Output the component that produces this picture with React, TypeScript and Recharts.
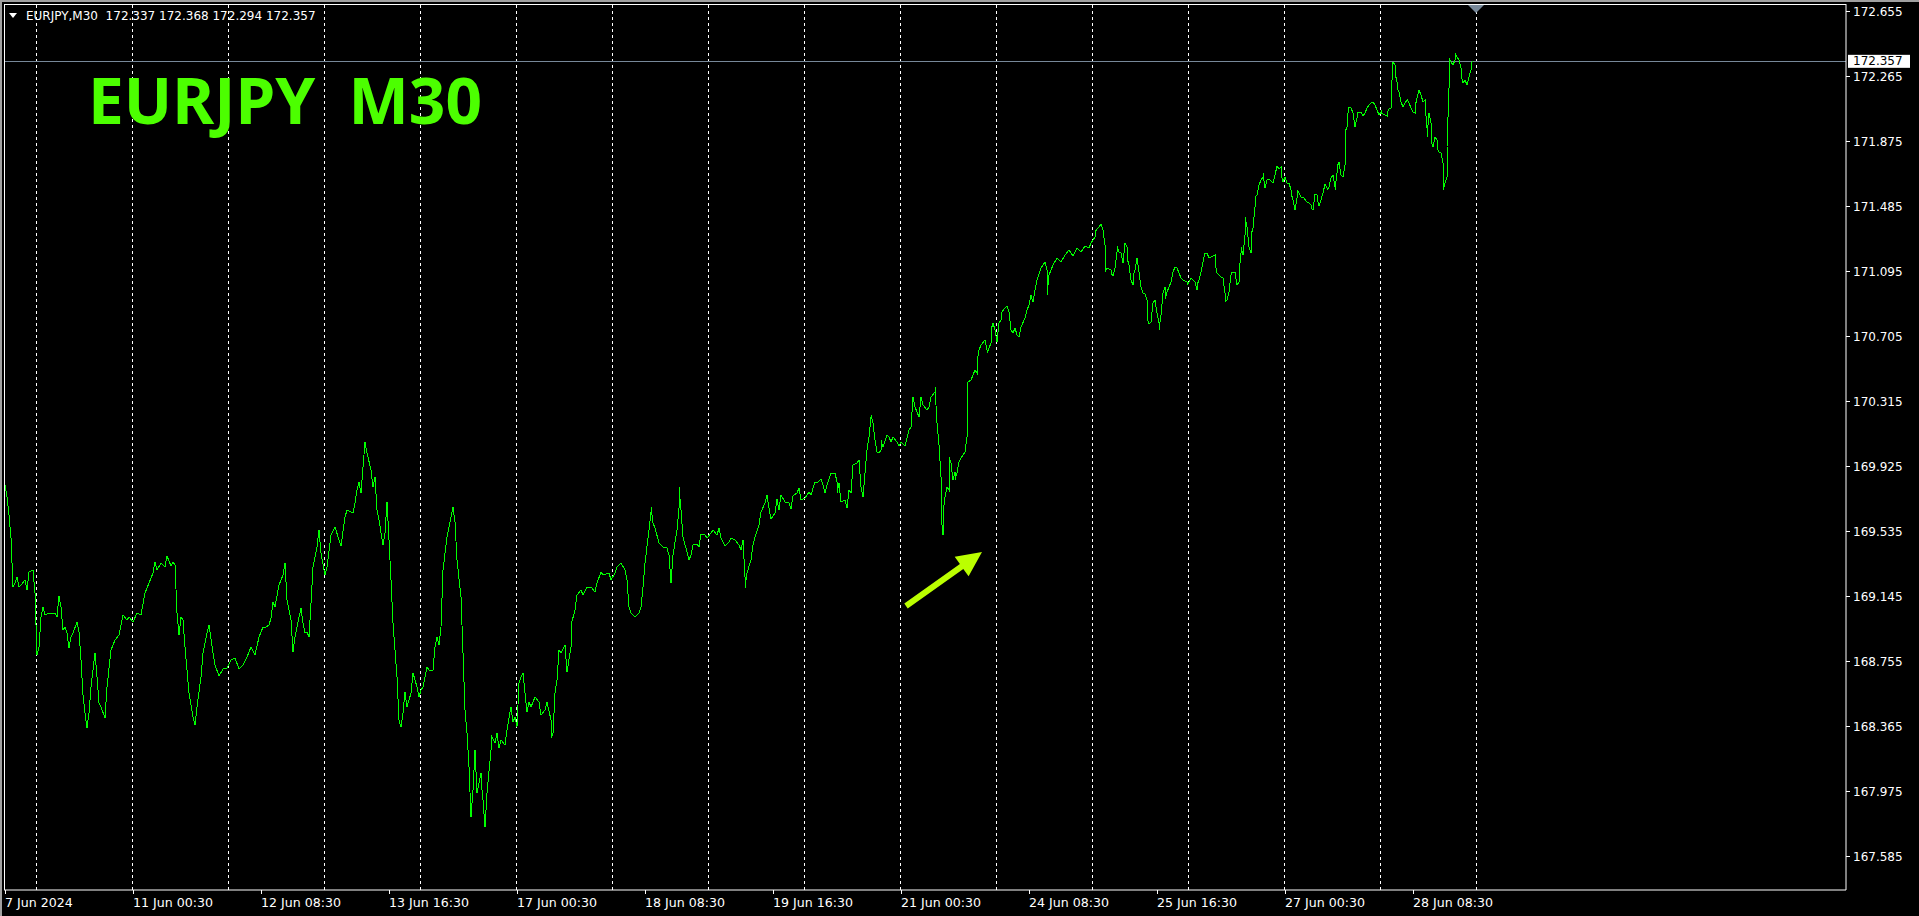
import React from "react";
import { LineChart, Line, XAxis, YAxis, ReferenceLine } from "recharts";

// EURJPY M30 closes: [bar index, close]
const closeByBar: [number, number][] = [
  [0,169.815],[1,169.743],[2,169.635],[3,169.497],[4,169.203],[5,169.227],[6,169.263],[7,169.203],[8,169.215],[10,169.245],
  [11,169.185],[12,169.293],[14,169.305],[15,169.167],[16,168.795],[17,168.843],[18,169.023],[19,169.083],[20,169.035],[22,169.047],
  [25,169.047],[26,169.023],[27,169.149],[28,169.083],[29,168.945],[30,168.963],[31,168.927],[32,168.837],[33,168.903],[34,168.927],
  [36,168.993],[37,168.933],[38,168.765],[39,168.555],[40,168.447],[41,168.357],[42,168.447],[43,168.603],[45,168.807],[46,168.663],
  [47,168.507],[48,168.483],[50,168.417],[51,168.603],[53,168.825],[55,168.885],[57,168.915],[59,169.035],[61,169.005],[62,169.023],
  [64,168.993],[66,169.047],[68,169.035],[70,169.167],[72,169.227],[74,169.287],[75,169.353],[76,169.305],[78,169.347],[80,169.323],
  [81,169.389],[83,169.329],[84,169.353],[85,169.335],[86,169.047],[87,168.915],[88,169.023],[89,169.005],[90,168.843],[91,168.705],
  [92,168.567],[94,168.423],[95,168.375],[96,168.483],[98,168.663],[99,168.807],[101,168.927],[102,168.975],[104,168.807],[105,168.735],
  [107,168.669],[109,168.711],[111,168.717],[113,168.765],[115,168.777],[117,168.711],[119,168.735],[121,168.783],[123,168.843],[125,168.795],
  [127,168.903],[129,168.963],[130,168.957],[132,168.975],[133,169.017],[134,169.113],[135,169.083],[137,169.215],[139,169.275],[140,169.347],
  [141,169.125],[143,169.005],[144,168.813],[145,168.903],[146,168.963],[148,169.077],[149,168.987],[150,168.927],[151,168.933],[152,168.903],
  [153,169.107],[154,169.323],[156,169.443],[157,169.545],[158,169.407],[160,169.275],[161,169.323],[163,169.515],[165,169.563],[167,169.485],
  [168,169.449],[170,169.623],[171,169.665],[174,169.647],[175,169.707],[176,169.785],[177,169.833],[178,169.767],[180,170.073],[181,170.007],
  [183,169.905],[184,169.803],[185,169.863],[186,169.665],[187,169.605],[189,169.455],[190,169.527],[191,169.713],[192,169.485],[193,169.245],
  [194,168.987],[196,168.663],[197,168.405],[198,168.363],[199,168.447],[200,168.573],[201,168.483],[203,168.567],[204,168.687],[206,168.603],
  [207,168.543],[208,168.585],[209,168.603],[211,168.723],[212,168.705],[214,168.705],[215,168.843],[216,168.903],[217,168.855],[218,168.963],
  [219,169.305],[221,169.503],[222,169.563],[224,169.683],[225,169.593],[226,169.365],[228,169.143],[229,168.807],[230,168.465],[231,168.327],
  [232,168.123],[233,167.823],[234,167.985],[235,168.225],[236,167.967],[237,168.027],[238,168.087],[238,168.045],[239,167.925],[240,167.763],
  [241,167.967],[243,168.225],[243,168.315],[245,168.267],[246,168.327],[247,168.237],[248,168.285],[250,168.255],[251,168.345],[252,168.417],
  [253,168.483],[254,168.393],[255,168.423],[256,168.363],[257,168.627],[258,168.663],[259,168.687],[260,168.567],[261,168.453],[262,168.513],
  [263,168.483],[265,168.543],[267,168.513],[268,168.435],[270,168.465],[271,168.513],[273,168.405],[273,168.297],[274,168.327],[275,168.567],
  [276,168.645],[277,168.825],[278,168.807],[280,168.855],[281,168.693],[283,168.843],[283,168.975],[285,169.065],[286,169.155],[288,169.185],
  [289,169.155],[291,169.203],[293,169.203],[295,169.173],[296,169.227],[298,169.293],[299,169.275],[302,169.287],[303,169.245],[305,169.287],
  [306,169.323],[308,169.347],[310,169.305],[311,169.245],[312,169.083],[313,169.047],[315,169.023],[317,169.047],[318,169.083],[319,169.203],
  [320,169.347],[322,169.545],[323,169.653],[323,169.683],[324,169.587],[325,169.557],[327,169.467],[328,169.455],[329,169.443],[331,169.437],
  [332,169.395],[333,169.227],[334,169.395],[336,169.545],[337,169.677],[337,169.803],[338,169.665],[339,169.503],[341,169.413],[342,169.365],
  [343,169.395],[344,169.455],[346,169.461],[347,169.443],[348,169.521],[350,169.515],[351,169.497],[353,169.527],[354,169.545],[356,169.515],
  [357,169.557],[358,169.497],[360,169.449],[362,169.473],[363,169.497],[365,169.485],[367,169.455],[368,169.425],[369,169.485],[370,169.263],
  [370,169.197],[371,169.287],[373,169.365],[374,169.455],[375,169.503],[377,169.575],[378,169.653],[380,169.707],[381,169.755],[382,169.677],
  [383,169.611],[385,169.647],[386,169.731],[387,169.665],[388,169.755],[390,169.713],[392,169.707],[393,169.671],[394,169.749],[396,169.767],
  [397,169.797],[398,169.725],[400,169.737],[402,169.773],[403,169.755],[405,169.833],[406,169.827],[408,169.851],[409,169.815],[410,169.767],
  [411,169.815],[413,169.887],[415,169.887],[416,169.833],[416,169.767],[417,169.827],[418,169.713],[420,169.725],[421,169.677],[422,169.785],
  [423,169.767],[424,169.935],[426,169.947],[427,169.965],[428,169.803],[429,169.743],[430,169.887],[431,170.025],[432,170.103],[433,170.223],
  [433,170.235],[434,170.187],[435,170.085],[436,170.013],[437,170.007],[438,170.025],[438,170.085],[439,170.043],[441,170.115],[442,170.103],
  [443,170.073],[444,170.103],[446,170.073],[447,170.049],[448,170.073],[450,170.049],[451,170.097],[452,170.145],[453,170.163],[454,170.343],
  [455,170.283],[457,170.223],[458,170.343],[459,170.295],[461,170.265],[462,170.283],[463,170.343],[465,170.373],[465,170.403],[466,170.187],
  [467,170.055],[468,169.863],[468,169.635],[469,169.515],[469,169.647],[470,169.743],[471,169.803],[472,169.785],[472,169.983],[473,169.947],
  [474,169.845],[475,169.893],[475,169.845],[476,169.887],[477,169.953],[478,169.977],[480,170.013],[481,170.103],[481,170.307],[481,170.427],
  [483,170.445],[484,170.475],[485,170.505],[486,170.487],[486,170.547],[487,170.625],[488,170.655],[490,170.685],[491,170.625],[491,170.607],
  [493,170.667],[493,170.745],[494,170.787],[495,170.745],[496,170.673],[497,170.787],[498,170.805],[498,170.847],[500,170.877],[501,170.889],
  [502,170.853],[503,170.745],[504,170.727],[505,170.757],[506,170.715],[507,170.703],[508,170.763],[510,170.817],[511,170.865],[512,170.895],
  [513,170.955],[514,170.913],[515,170.985],[516,171.045],[518,171.117],[520,171.153],[521,171.105],[521,170.955],[522,171.075],[524,171.135],
  [526,171.177],[528,171.153],[530,171.195],[532,171.225],[534,171.189],[536,171.237],[538,171.213],[540,171.249],[542,171.237],[543,171.267],
  [545,171.303],[545,171.333],[546,171.351],[547,171.363],[548,171.381],[549,171.345],[550,171.255],[550,171.093],[551,171.117],[553,171.105],
  [553,171.087],[554,171.069],[555,171.117],[556,171.213],[556,171.249],[557,171.213],[558,171.207],[559,171.147],[560,171.267],[561,171.243],
  [561,171.177],[562,171.135],[563,171.045],[564,171.015],[564,171.063],[565,171.105],[566,171.177],[567,171.093],[568,171.003],[569,170.967],
  [570,170.961],[571,170.925],[571,170.823],[572,170.781],[573,170.793],[574,170.907],[575,170.925],[576,170.847],[577,170.787],[577,170.745],
  [578,170.835],[579,170.967],[580,171.003],[580,170.931],[581,170.973],[582,171.003],[583,171.033],[584,171.093],[585,171.123],[586,171.117],
  [587,171.087],[588,171.057],[589,171.045],[591,171.033],[591,171.015],[592,171.033],[593,171.057],[595,171.033],[596,170.985],[596,171.015],
  [597,171.045],[598,171.093],[599,171.153],[600,171.207],[601,171.207],[602,171.177],[603,171.183],[605,171.195],[605,171.153],[606,171.087],
  [608,171.063],[609,171.057],[610,170.967],[610,170.913],[611,170.925],[612,170.973],[613,171.075],[613,171.087],[615,171.093],[616,171.015],
  [617,171.033],[617,171.087],[618,171.207],[618,171.243],[619,171.195],[620,171.315],[620,171.423],[621,171.363],[622,171.243],[623,171.207],
  [623,171.315],[624,171.357],[625,171.483],[625,171.543],[626,171.555],[627,171.615],[628,171.645],[629,171.663],[629,171.687],[630,171.597],
  [631,171.645],[632,171.651],[633,171.639],[634,171.627],[635,171.675],[636,171.729],[637,171.711],[638,171.723],[638,171.687],[639,171.633],
  [640,171.663],[641,171.627],[642,171.627],[643,171.585],[643,171.567],[644,171.525],[645,171.465],[646,171.537],[646,171.585],[647,171.567],
  [648,171.543],[649,171.543],[651,171.513],[652,171.507],[653,171.495],[653,171.477],[654,171.465],[655,171.561],[656,171.555],[656,171.537],
  [657,171.489],[658,171.525],[659,171.567],[660,171.621],[661,171.597],[661,171.585],[662,171.603],[663,171.657],[664,171.675],[665,171.603],
  [665,171.585],[666,171.687],[666,171.723],[667,171.753],[668,171.675],[669,171.663],[670,171.735],[670,171.933],[671,171.963],[671,172.005],
  [672,172.083],[673,172.077],[674,172.047],[675,171.963],[676,172.017],[676,172.053],[677,172.047],[678,172.053],[679,172.029],[680,172.047],
  [681,172.077],[682,172.095],[683,172.107],[684,172.113],[685,172.095],[686,172.065],[687,172.035],[688,172.053],[688,172.047],[690,172.035],
  [691,172.029],[691,172.047],[692,172.071],[693,172.077],[693,172.137],[694,172.353],[695,172.335],[695,172.287],[696,172.233],[696,172.197],
  [697,172.173],[698,172.113],[699,172.083],[700,172.107],[701,172.125],[701,172.131],[702,172.107],[703,172.077],[704,172.053],[705,172.047],
  [705,172.083],[706,172.137],[707,172.185],[708,172.155],[709,172.113],[710,172.125],[710,172.107],[711,171.957],[711,171.903],[712,172.047],
  [713,171.987],[713,171.885],[714,171.843],[715,171.903],[716,171.885],[716,171.837],[717,171.813],[718,171.807],[719,171.747],[719,171.585],
  [720,171.627],[721,171.663],[721,171.843],[722,172.197],[722,172.377],[723,172.353],[724,172.335],[725,172.365],[725,172.407],[726,172.383],
  [727,172.365],[728,172.317],[728,172.275],[729,172.227],[730,172.245],[731,172.215],[732,172.263],[733,172.305],[733,172.347],[734,172.357],
];

// last bar: open, high, low, close
const lastBarOHLC = [172.337, 172.368, 172.294, 172.357];

const priceTicks = [
  172.655, 172.265, 171.875, 171.485, 171.095, 170.705, 170.315,
  169.925, 169.535, 169.145, 168.755, 168.365, 167.975, 167.585,
];

const timeTicks = [0, 64, 128, 192, 256, 320, 384, 448, 512, 576, 640, 704];
const timeLabels = [
  "7 Jun 2024", "11 Jun 00:30", "12 Jun 08:30", "13 Jun 16:30", "17 Jun 00:30", "18 Jun 08:30",
  "19 Jun 16:30", "21 Jun 00:30", "24 Jun 08:30", "25 Jun 16:30", "27 Jun 00:30", "28 Jun 08:30",
];

// day separators (midnight between bars)
const daySeparators = [
  15.5, 63.5, 111.5, 159.5, 207.5, 255.5, 303.5, 351.5,
  399.5, 447.5, 495.5, 543.5, 591.5, 639.5, 687.5, 735.5,
];

const FONT = "'DejaVu Sans', Tahoma, sans-serif";
const PLOT_RIGHT = 1846;
const PLOT_BOTTOM = 890;

const chartData = closeByBar.map(([bar, close]) => ({ bar, close }));
const lastClose = lastBarOHLC[3];

const PriceTick = ({ y, payload }: any) => (
  <g>
    <line x1={PLOT_RIGHT} x2={PLOT_RIGHT + 4} y1={y} y2={y} stroke="#fff" shapeRendering="crispEdges" />
    <text x={PLOT_RIGHT + 7} y={y + 4} fill="#fff" fontSize={12} fontFamily={FONT}>
      {payload.value.toFixed(3)}
    </text>
  </g>
);

const TimeTick = ({ x, payload }: any) => {
  const idx = timeTicks.indexOf(payload.value);
  return (
    <g>
      <line x1={x} x2={x} y1={PLOT_BOTTOM} y2={PLOT_BOTTOM + 4} stroke="#fff" shapeRendering="crispEdges" />
      <text x={x} y={PLOT_BOTTOM + 17} fill="#fff" fontSize={12.6} fontFamily={FONT}>
        {timeLabels[idx]}
      </text>
    </g>
  );
};

const PriceLabel = ({ viewBox }: any) => {
  const y = viewBox.y;
  return (
    <g>
      <rect x={PLOT_RIGHT + 2} y={y - 6.5} width={62} height={13} fill="#fff" />
      <text x={PLOT_RIGHT + 7} y={y + 4} fill="#000" fontSize={12} fontFamily={FONT}>
        {lastClose.toFixed(3)}
      </text>
    </g>
  );
};

const App: React.FC = () => {
  return (
    <div style={{ position: "fixed", left: 0, top: 0, width: 1919, height: 916, background: "#000", overflow: "hidden" }}>
      <LineChart width={1919} height={916} data={chartData} margin={{ top: 4, right: 0, bottom: 0, left: 4 }}>
        <XAxis
          dataKey="bar"
          type="number"
          domain={[-0.5, 920.5]}
          allowDataOverflow
          ticks={timeTicks}
          interval={0}
          height={26}
          axisLine={{ stroke: "#fff" }}
          tickLine={false}
          tick={<TimeTick />}
        />
        <YAxis
          orientation="right"
          type="number"
          domain={[167.385, 172.701]}
          allowDataOverflow
          ticks={priceTicks}
          interval={0}
          width={73}
          axisLine={{ stroke: "#fff" }}
          tickLine={false}
          tick={<PriceTick />}
        />
        {daySeparators.map((d) => (
          <ReferenceLine key={d} x={d} stroke="#fff" strokeDasharray="3 3" shapeRendering="crispEdges" />
        ))}
        <ReferenceLine y={lastClose} stroke="#778899" shapeRendering="crispEdges" label={<PriceLabel />} />
        <Line
          type="linear"
          dataKey="close"
          stroke="#00ff00"
          strokeWidth={1}
          shapeRendering="crispEdges"
          dot={false}
          activeDot={false}
          isAnimationActive={false}
        />
      </LineChart>
      <svg width={1919} height={916} style={{ position: "absolute", left: 0, top: 0, pointerEvents: "none" }}>
        {/* window frame */}
        <rect x={0} y={0} width={1919} height={2} fill="#a0a0a0" />
        <rect x={0} y={0} width={2} height={916} fill="#a0a0a0" />
        <line x1={4} x2={PLOT_RIGHT} y1={4.5} y2={4.5} stroke="#fff" />
        <line x1={4.5} x2={4.5} y1={4} y2={PLOT_BOTTOM} stroke="#fff" />
        {/* chart shift marker */}
        <polygon points="1468,5 1484,5 1476,13" fill="#778899" />
        {/* header */}
        <polygon points="9,13 17,13 13,18" fill="#fff" />
        <text x={26} y={20} fill="#fff" fontSize={12} fontFamily={FONT} style={{ whiteSpace: "pre" }}>
          {`EURJPY,M30  ${lastBarOHLC.map((v) => v.toFixed(3)).join(" ")}`}
        </text>
        {/* title */}
        <text
          x={88}
          y={124}
          fill="#4cff00"
          fontSize={64}
          fontWeight={700}
          fontFamily="'Noto Sans', 'Open Sans', sans-serif"
          style={{ whiteSpace: "pre" }}
        >
          {"EURJPY  M30"}
        </text>
        {/* arrow */}
        <polygon
          points="904.3,603.6 959.9,564 954.7,556.7 982,552 968.6,576.3 963.3,569 907.7,608.4"
          fill="#bbff00"
        />
      </svg>
    </div>
  );
};

export default App;
